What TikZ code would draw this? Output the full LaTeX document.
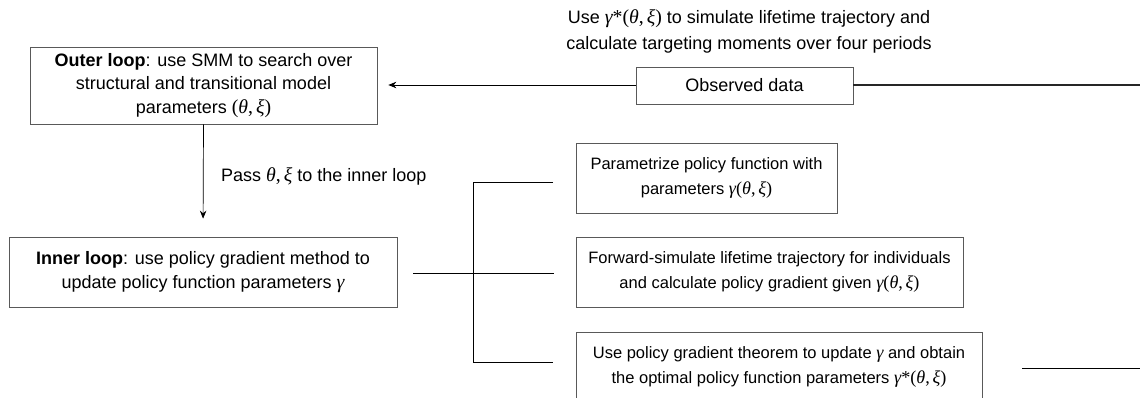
\documentclass[tikz,border=0pt]{standalone}
\usepackage{fontspec}
\setmainfont{Liberation Sans}
\newfontfamily\grkfont[Scale=1.1]{Liberation Serif}
\newcommand\gk[1]{{\grkfont\itshape #1}}
\newcommand\gp[1]{{\grkfont #1}}
\usetikzlibrary{arrows.meta}
\tikzset{
  boxnode/.style={draw=black!65, line width=0.7pt, align=center, inner sep=0pt},
  bigtext/.style={font=\fontsize{18}{23.5}\selectfont},
  smalltext/.style={font=\fontsize{16.5}{25}\selectfont},
  lbl/.style={align=center, inner sep=0pt, font=\fontsize{18}{26}\selectfont},
  conn/.style={line width=0.7pt, black},
  thick conn/.style={line width=1.5pt, black!85},
  arr/.style={conn, -{Stealth[length=8pt,width=6.5pt]}}
}
\begin{document}
\begin{tikzpicture}[x=1pt,y=-1pt]
\useasboundingbox (0,0) rectangle (1140,398);
\node[boxnode, bigtext, minimum width=347pt, minimum height=77pt] (outer) at (203.5,85.5)
  {\textbf{Outer loop}: use SMM to search over\\structural and transitional model\\parameters \gp{(}\gk{θ}\gp{,}\,\gk{ξ}\gp{)}};
\node[boxnode, bigtext, minimum width=217pt, minimum height=37pt] (obs) at (744.5,85.5) {Observed data};
\node[lbl] (top) at (749,31) {Use \gk{γ}\gp{*(}\gk{θ}\gp{,}\,\gk{ξ}\gp{)} to simulate lifetime trajectory and\\calculate targeting moments over four periods};
\node[boxnode, bigtext, minimum width=388pt, minimum height=70pt] (inner) at (203,272)
  {\textbf{Inner loop}: use policy gradient method to\\update policy function parameters \gk{γ}};
\node[lbl, anchor=west] (pass) at (221,176) {Pass \gk{θ}\gp{,}\,\gk{ξ} to the inner loop};
\node[boxnode, smalltext, minimum width=261pt, minimum height=70pt] (b1) at (706.5,178)
  {Parametrize policy function with\\parameters \gk{γ}\gp{(}\gk{θ}\gp{,}\,\gk{ξ}\gp{)}};
\node[boxnode, smalltext, minimum width=387pt, minimum height=70pt] (b2) at (769.5,272)
  {Forward-simulate lifetime trajectory for individuals\\and calculate policy gradient given \gk{γ}\gp{(}\gk{θ}\gp{,}\,\gk{ξ}\gp{)}};
\node[boxnode, smalltext, minimum width=406pt, minimum height=70pt] (b3) at (779,367)
  {Use policy gradient theorem to update \gk{γ} and obtain\\the optimal policy function parameters \gk{γ}\gp{*(}\gk{θ}\gp{,}\,\gk{ξ}\gp{)}};
\coordinate (obsR) at (1140,85);
\coordinate (obsL) at (obs.west |- obsR);
\coordinate (tipA) at (outer.east |- obsR);
\coordinate (jTop) at (473,182);
\coordinate (jBot) at (473,362);
\coordinate (eTop) at (553,182);
\coordinate (eMid) at (554,273);
\coordinate (eBot) at (553,362);
\coordinate (innerE) at (inner.east |- eMid);
\coordinate (b3R) at (1140,368);
\coordinate (b3E) at (b3.east |- b3R);
\draw[arr, shorten >=11pt] (obsL) -- (tipA);
\draw[thick conn] (obs.east |- obsR) -- (obsR);
\draw[arr, shorten >=18pt] (outer.south) -- (inner.north);
\draw[conn, shorten <=16pt] (innerE) -- (eMid);
\draw[conn] (eTop) -- (jTop) -- (jBot) -- (eBot);
\draw[conn, shorten <=40pt] (b3E) -- (b3R);
\end{tikzpicture}
\end{document}
